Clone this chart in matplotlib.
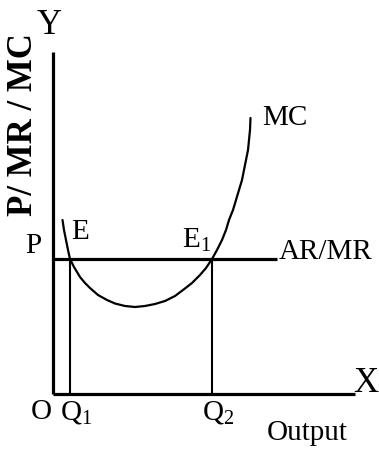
"""
plot.py
-------
Firm equilibrium under perfect competition: MC curve cutting AR/MR twice.
"""

import matplotlib
matplotlib.use("Agg")
import matplotlib.pyplot as plt

plt.rcParams["font.family"] = ["Liberation Serif", "DejaVu Serif"]
plt.rcParams["mathtext.fontset"] = "custom"
plt.rcParams["mathtext.rm"] = "Liberation Serif"
plt.rcParams["mathtext.it"] = "Liberation Serif"

# axis extents (data units, origin at O)
y_axis_top = 342
x_axis_end = 302

# price line AR = MR
price = 135
price_line_end = 224

# output levels at the two equilibria
q1 = 17
q2 = 159

# MC curve (output, cost)
mc_x = [9.5, 11, 13, 15, 17, 21, 27, 32, 37, 45, 54, 62, 72, 82, 92, 102,
        112, 122, 130, 139, 147, 153, 159, 164, 169, 173, 176, 180, 183,
        186, 189, 191, 193, 195, 196, 197, 197.5]
mc_y = [174, 164, 154, 144, 135, 127, 117, 111, 106, 99, 94, 90.5, 88, 87,
        88, 90, 93, 98, 104, 111, 119, 126, 135, 144, 154, 164, 174, 184,
        194, 204, 214, 224, 234, 244, 254, 264, 276]

fig = plt.figure(figsize=(3.79, 4.55), dpi=100)
ax = fig.add_axes([0, 0, 1, 1])
ax.set_xlim(-53, 326)
ax.set_ylim(-61, 394)
ax.axis("off")

axis_lw = 2.3
ax.plot([0, 0], [0, y_axis_top], color="black", lw=axis_lw, solid_capstyle="butt")
ax.plot([0, x_axis_end], [0, 0], color="black", lw=axis_lw, solid_capstyle="butt")
ax.plot([0, price_line_end], [price, price], color="black", lw=axis_lw,
        solid_capstyle="butt")
ax.plot([q1, q1], [0, price], color="black", lw=1.5, solid_capstyle="butt")
ax.plot([q2, q2], [0, price], color="black", lw=1.5, solid_capstyle="butt")
ax.plot(mc_x, mc_y, color="black", lw=1.6, solid_capstyle="round",
        solid_joinstyle="round")

fs = 21
ax.text(-3.5, 368, "Y", fontsize=25, ha="center", va="center")
ax.text(313, 10, "X", fontsize=25, ha="center", va="center")
ax.text(-12, -18, "O", fontsize=fs, ha="center", va="center")
ax.text(q1 + 6, -18, r"Q$_1$", fontsize=fs, ha="center", va="center")
ax.text(q2 + 6, -18, r"Q$_2$", fontsize=fs, ha="center", va="center")
ax.text(254, -39, "Output", fontsize=fs, ha="center", va="center")
ax.text(-20, price + 13, "P", fontsize=fs, ha="center", va="center")
ax.text(27, 162, "E", fontsize=fs, ha="center", va="center")
ax.text(144, 154, r"E$_1$", fontsize=fs, ha="center", va="center")
ax.text(226, 142, "AR/MR", fontsize=fs, ha="left", va="center")
ax.text(209, 276, "MC", fontsize=fs, ha="left", va="center")
ax.text(-29, 269, "P/ MR / MC", fontsize=25, fontweight="bold",
        rotation=90, ha="center", va="center")

fig.savefig("out.png", dpi=100)
plt.close(fig)
